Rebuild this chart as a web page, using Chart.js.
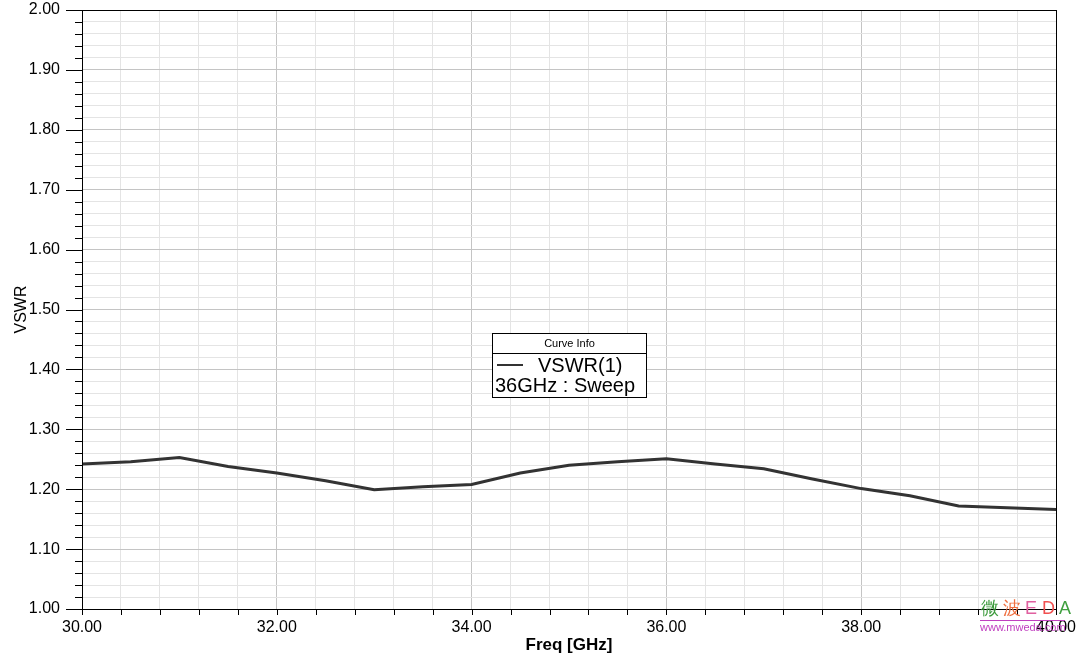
<!DOCTYPE html>
<html>
<head>
<meta charset="utf-8">
<script src="https://cdn.jsdelivr.net/npm/chart.js@4.4.1/dist/chart.umd.min.js"></script>
<style>
    html, body { margin: 0; padding: 0; background: #fff; }
    #wrap { width: 1088px; height: 656px; position: relative; }
</style>
</head>
<body>
<div id="wrap"><canvas id="vswrChart" width="1088" height="656"></canvas></div>
<script>
// Data
const freqGHz = [30, 30.5, 31, 31.5, 32, 32.5, 33, 33.5, 34, 34.5, 35, 35.5, 36, 36.5, 37, 37.5, 38, 38.5, 39, 39.5, 40];
const vswrValues = [1.242, 1.246, 1.253, 1.238, 1.227, 1.214, 1.199, 1.204, 1.208, 1.227, 1.240, 1.246, 1.251, 1.242, 1.234, 1.217, 1.201, 1.189, 1.172, 1.169, 1.166];

// Tick values: x every 0.4 GHz (labels every 2), y every 0.02 (labels every 0.1)
const xTicks = [];
for (let i = 0; i <= 25; i++) xTicks.push(Math.round((30 + i * 0.4) * 10) / 10);
const yTicks = [];
for (let i = 0; i <= 50; i++) yTicks.push(Math.round((1 + i * 0.02) * 100) / 100);

const isMajorX = v => Math.round(v * 10) % 20 === 0;
const isMajorY = v => Math.round(v * 100) % 10 === 0;

const legendTitle = 'Curve Info';
const legendSeries = 'VSWR(1)';
const legendSweep = '36GHz : Sweep';

const FONT = '"Liberation Sans", Arial, sans-serif';

// frame, tick marks, curve info box and watermark
const overlayPlugin = {
    id: 'overlay',
    afterDraw(chart) {
        const ctx = chart.ctx;
        const a = chart.chartArea;
        const xs = chart.scales.x;
        const ys = chart.scales.y;
        ctx.save();
        ctx.strokeStyle = '#000';
        ctx.lineWidth = 1;

        // y tick marks
        yTicks.forEach(v => {
            const y = Math.round(ys.getPixelForValue(v)) + 0.5;
            const len = isMajorY(v) ? 16 : 7;
            ctx.beginPath();
            ctx.moveTo(a.left - len, y);
            ctx.lineTo(a.left, y);
            ctx.stroke();
        });
        // x tick marks
        xTicks.forEach(v => {
            const x = Math.round(xs.getPixelForValue(v)) + 0.5;
            ctx.beginPath();
            ctx.moveTo(x, a.bottom);
            ctx.lineTo(x, a.bottom + 6);
            ctx.stroke();
        });
        // frame
        ctx.strokeRect(Math.round(a.left) + 0.5, Math.round(a.top) + 0.5,
            Math.round(a.right - a.left), Math.round(a.bottom - a.top));

        // Curve info box
        const bx = 492.5, by = 333.5, bw = 154, bh = 64;
        ctx.fillStyle = '#fff';
        ctx.fillRect(bx, by, bw, bh);
        ctx.strokeRect(bx, by, bw, bh);
        ctx.beginPath();
        ctx.moveTo(bx, by + 20);
        ctx.lineTo(bx + bw, by + 20);
        ctx.stroke();
        ctx.fillStyle = '#000';
        ctx.font = '11px ' + FONT;
        ctx.textAlign = 'center';
        ctx.textBaseline = 'middle';
        ctx.fillText(legendTitle, bx + bw / 2, by + 10);
        ctx.lineWidth = 2;
        ctx.strokeStyle = '#333';
        ctx.beginPath();
        ctx.moveTo(497, 365);
        ctx.lineTo(523, 365);
        ctx.stroke();
        ctx.font = '20px ' + FONT;
        ctx.textAlign = 'left';
        ctx.textBaseline = 'alphabetic';
        ctx.fillText(legendSeries, 538, 372);
        ctx.fillText(legendSweep, 495, 392);

        // watermark
        const wm = [['微', '#3a9a3a'], ['波', '#f07040'], ['E', '#e060a0'], ['D', '#f05050'], ['A', '#40a040']];
        ctx.font = '18px ' + FONT;
        let wx = 981;
        wm.forEach(([ch, col]) => {
            ctx.fillStyle = col;
            ctx.fillText(ch, wx, 614);
            wx += ch.charCodeAt(0) > 255 ? 22 : 17;
        });
        ctx.strokeStyle = '#c040c0';
        ctx.lineWidth = 1;
        ctx.beginPath();
        ctx.moveTo(980, 620.5);
        ctx.lineTo(1065, 620.5);
        ctx.stroke();
        ctx.fillStyle = '#c040c0';
        ctx.font = '11px ' + FONT;
        ctx.fillText('www.mweda.com', 980, 631);
        ctx.restore();
    }
};

const ctx = document.getElementById('vswrChart').getContext('2d');
new Chart(ctx, {
    type: 'line',
    data: {
        datasets: [{
            label: 'VSWR(1)',
            data: freqGHz.map((f, i) => ({ x: f, y: vswrValues[i] })),
            borderColor: '#333333',
            borderWidth: 3,
            pointRadius: 0,
            tension: 0,
            fill: false
        }]
    },
    options: {
        responsive: false,
        animation: false,
        layout: { padding: { top: 10, right: 32, left: 0, bottom: 0 } },
        plugins: {
            legend: { display: false },
            tooltip: { enabled: false }
        },
        scales: {
            x: {
                type: 'linear',
                min: 30,
                max: 40,
                afterBuildTicks: s => { s.ticks = xTicks.map(v => ({ value: v })); },
                afterFit: s => { s.height = 47; s.paddingLeft = 0; s.paddingRight = 0; },
                border: { display: false },
                grid: {
                    drawTicks: false,
                    color: c => isMajorX(c.tick.value) ? '#c4c4c4' : '#e4e4e4'
                },
                ticks: {
                    autoSkip: false,
                    maxRotation: 0,
                    padding: 9,
                    color: '#000',
                    font: { family: FONT, size: 16 },
                    callback: v => isMajorX(v) ? v.toFixed(2) : ''
                },
                title: {
                    display: true,
                    text: 'Freq [GHz]',
                    color: '#000',
                    font: { family: FONT, size: 17, weight: 'bold' },
                    padding: { top: 1, bottom: 0 }
                }
            },
            y: {
                min: 1,
                max: 2,
                afterBuildTicks: s => { s.ticks = yTicks.map(v => ({ value: v })); },
                afterFit: s => { s.width = 82; s.paddingTop = 0; s.paddingBottom = 0; },
                border: { display: false },
                grid: {
                    drawTicks: false,
                    color: c => isMajorY(c.tick.value) ? '#c4c4c4' : '#e4e4e4'
                },
                ticks: {
                    autoSkip: false,
                    padding: 22,
                    color: '#000',
                    font: { family: FONT, size: 16 },
                    callback: v => isMajorY(v) ? v.toFixed(2) : ''
                },
                title: {
                    display: true,
                    text: 'VSWR',
                    color: '#000',
                    font: { family: FONT, size: 16 },
                    padding: { top: 12, bottom: 0 }
                }
            }
        }
    },
    plugins: [overlayPlugin]
});
</script>
</body>
</html>
